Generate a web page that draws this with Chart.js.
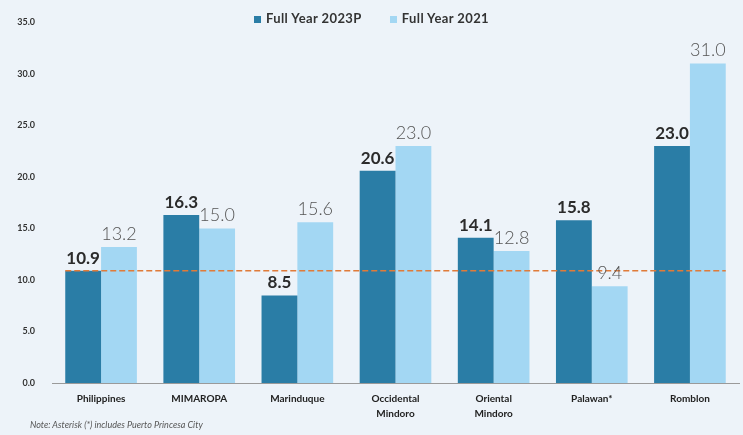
<!DOCTYPE html>
<html>
<head>
<meta charset="utf-8">
<script src="https://cdn.jsdelivr.net/npm/chart.js@4"></script>
<style>
  html, body { margin: 0; padding: 0; background: #edf3f9; }
  #wrap { position: relative; width: 743px; height: 435px; }
  #legend { position: absolute; top: 10px; left: 0; width: 743px; text-align: center;
    font: bold 13px Lato, sans-serif; letter-spacing: 0.4px; color: #333; }
  #legend span.item { margin: 0 14px; }
  #legend span.box { display: inline-block; width: 7px; height: 7px; margin-right: 5px; }
  #note { position: absolute; left: 30px; top: 419px; font: italic 9px Lato, sans-serif; color: #555; }
</style>
</head>
<body>
<div id="wrap">
  <canvas id="chart" width="743" height="435"></canvas>
  <div id="legend"></div>
  <div id="note">Note: Asterisk (*) includes Puerto Princesa City</div>
</div>
<script>
// Categories and values
const regions = ['Philippines', 'MIMAROPA', 'Marinduque', ['Occidental', 'Mindoro'], ['Oriental', 'Mindoro'], 'Palawan*', 'Romblon'];
const fy2023 = [10.9, 16.3, 8.5, 20.6, 14.1, 15.8, 23.0];
const fy2021 = [13.2, 15.0, 15.6, 23.0, 12.8, 9.4, 31.0];
const seriesNames = ['Full Year 2023P', 'Full Year 2021'];
const seriesColors = ['#2a7da6', '#a3d7f3'];
const nationalLevel = 10.9;
const yTicks = [0, 5, 10, 15, 20, 25, 30, 35];

// Legend (HTML so it can sit beside the top tick)
document.getElementById('legend').innerHTML = seriesNames.map((n, i) =>
  '<span class="item"><span class="box" style="background:' + seriesColors[i] + '"></span>' + n + '</span>'
).join('');

// Dashed national line + value labels
const overlay = {
  id: 'overlay',
  afterDatasetsDraw(chart) {
    const ctx = chart.ctx;
    const y = chart.scales.y;
    const first = chart.getDatasetMeta(0).data[0];
    const lastMeta = chart.getDatasetMeta(1).data;
    const last = lastMeta[lastMeta.length - 1];
    const py = y.getPixelForValue(nationalLevel);
    ctx.save();
    ctx.strokeStyle = '#e07b39';
    ctx.lineWidth = 1.6;
    ctx.setLineDash([6, 3]);
    ctx.beginPath();
    ctx.moveTo(first.x - first.width / 2, py);
    ctx.lineTo(last.x + last.width / 2, py);
    ctx.stroke();
    ctx.restore();

    ctx.save();
    ctx.textAlign = 'center';
    ctx.textBaseline = 'bottom';
    chart.data.datasets.forEach((ds, di) => {
      chart.getDatasetMeta(di).data.forEach((bar, i) => {
        if (di === 0) {
          ctx.font = 'bold 17px Lato, sans-serif';
          ctx.fillStyle = '#2b2b2b';
        } else {
          ctx.font = '300 18px Lato, sans-serif';
          ctx.fillStyle = '#555';
        }
        ctx.fillText(ds.data[i].toFixed(1), bar.x, bar.y - 4);
      });
    });
    ctx.restore();
  }
};

const config = {
  type: 'bar',
  data: {
    labels: regions,
    datasets: [
      { label: seriesNames[0], data: fy2023, backgroundColor: seriesColors[0] },
      { label: seriesNames[1], data: fy2021, backgroundColor: seriesColors[1] }
    ]
  },
  options: {
    responsive: false,
    animation: false,
    categoryPercentage: 0.73,
    barPercentage: 1.0,
    layout: { padding: { top: 11, right: 4, bottom: 6, left: 0 } },
    plugins: {
      legend: { display: false },
      tooltip: { enabled: false }
    },
    scales: {
      x: {
        grid: { display: false, drawTicks: false },
        border: { display: true, color: '#9a9a9a', width: 1 },
        ticks: { color: '#222', font: { family: 'Lato, sans-serif', size: 10, weight: 'bold', lineHeight: 1.5 }, padding: 8, maxRotation: 0 }
      },
      y: {
        min: 0, max: 35,
        afterBuildTicks(s) { s.ticks = yTicks.map(v => ({ value: v })); },
        afterFit(s) { s.width = 52; },
        grid: { display: false, drawTicks: false },
        border: { display: false },
        ticks: { color: '#333', padding: 17, font: { family: 'Lato, sans-serif', size: 9, weight: 'bold' },
          callback: v => v.toFixed(1) }
      }
    }
  },
  plugins: [overlay]
};

new Chart(document.getElementById('chart').getContext('2d'), config);
</script>
</body>
</html>
